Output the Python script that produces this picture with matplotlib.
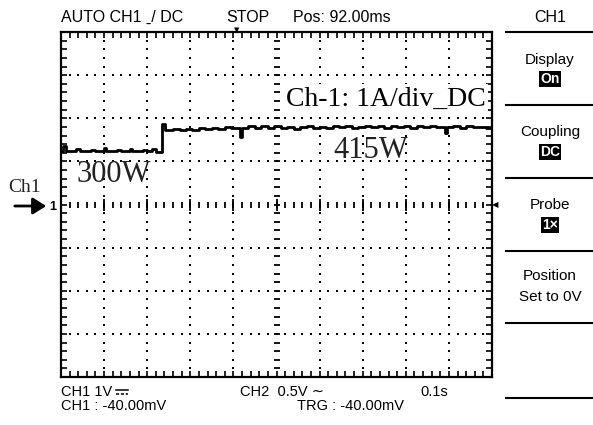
import matplotlib
matplotlib.use("Agg")
import matplotlib.pyplot as plt
from matplotlib.patches import FancyArrowPatch

# ---- data (screen divisions) ----
trace_x = [0.0, 0.05, 0.12, 0.35, 0.45, 0.7, 0.8, 1.0, 1.05, 1.3, 1.4, 1.6, 1.65, 1.9, 2.0, 2.1, 2.2,
           2.34, 2.42, 2.6, 2.75, 2.9, 3.05, 3.2, 3.35, 3.5, 3.65, 3.8, 3.95, 4.15, 4.2, 4.35, 4.5,
           4.65, 4.8, 4.95, 5.1, 5.25, 5.4, 5.55, 5.7, 5.85, 6.0, 6.15, 6.3, 6.45, 6.6, 6.75, 6.9,
           7.05, 7.2, 7.35, 7.5, 7.65, 7.8, 7.95, 8.1, 8.25, 8.4, 8.55, 8.7, 8.9, 8.95, 9.1, 9.25,
           9.4, 9.55, 9.7, 9.85, 10.0]
trace_y = [1.24, 1.36, 1.24, 1.28, 1.24, 1.26, 1.24, 1.30, 1.24, 1.27, 1.24, 1.29, 1.24, 1.27, 1.25, 1.28, 1.22,
           1.87, 1.73, 1.75, 1.72, 1.76, 1.73, 1.77, 1.74, 1.78, 1.76, 1.79, 1.77, 1.56, 1.78, 1.81, 1.77,
           1.82, 1.78, 1.81, 1.78, 1.80, 1.76, 1.79, 1.82, 1.78, 1.80, 1.78, 1.81, 1.79, 1.82, 1.78, 1.80,
           1.83, 1.79, 1.81, 1.78, 1.82, 1.79, 1.81, 1.78, 1.82, 1.79, 1.81, 1.80, 1.66, 1.80, 1.82, 1.78,
           1.81, 1.79, 1.80, 1.78, 1.79]

n_xdiv = 10
n_ydiv = 8
sub = 5

W, H = 593, 425
fig = plt.figure(figsize=(W / 100, H / 100), dpi=100)
fig.patch.set_facecolor("white")

def fx(px):
    return px / W

def fy(py):
    return 1 - py / H

L, R, T, B = 61, 492, 32, 377
ax = fig.add_axes([fx(L), fy(B), (R - L) / W, (B - T) / H])
ax.set_xlim(0, n_xdiv)
ax.set_ylim(-n_ydiv / 2, n_ydiv / 2)
for s in ax.spines.values():
    s.set_linewidth(1.6)
    s.set_color("black")

fine_x = [i / sub for i in range(n_xdiv * sub + 1)]
fine_y = [-n_ydiv / 2 + i / sub for i in range(n_ydiv * sub + 1)]
ax.set_xticks(fine_x)
ax.set_yticks(fine_y)
ax.tick_params(direction="in", length=4, width=1.2, top=True, right=True,
               labelbottom=False, labelleft=False, color="black")

# dotted grid
for i in range(1, n_xdiv):
    if i == n_xdiv // 2:
        continue
    ax.plot([i] * len(fine_y), fine_y, ls="", marker="s", ms=1.5, color="black", mew=0)
for j in range(1, n_ydiv):
    yv = -n_ydiv / 2 + j
    if yv == 0:
        continue
    ax.plot(fine_x, [yv] * len(fine_x), ls="", marker="s", ms=1.5, color="black", mew=0)
# center cross with ticks
ax.plot([n_xdiv / 2] * len(fine_y), fine_y, ls="", marker="_", ms=5, mew=1.3, color="black")
ax.plot(fine_x, [0] * len(fine_x), ls="", marker="|", ms=5, mew=1.3, color="black")
ax.plot(list(range(n_xdiv + 1)), [0] * (n_xdiv + 1), ls="", marker="|", ms=8, mew=1.3, color="black")

# trace
ax.plot(trace_x, trace_y, drawstyle="steps-post", color="black", lw=2.0, zorder=5)

# serif annotations
serif = ["Liberation Serif", "DejaVu Serif"]
ax.text(0.985, 0.805, "Ch-1: 1A/div_DC", transform=ax.transAxes, ha="right", va="center",
        fontsize=20, family=serif, zorder=6,
        bbox=dict(facecolor="white", edgecolor="none", pad=2))
fig.text(fx(77), fy(174), "300W", ha="left", va="center", fontsize=22, family=serif, color="#222222")
fig.text(fx(333), fy(150), "415W", ha="left", va="center", fontsize=22, family=serif, color="#222222")
fig.text(fx(8), fy(188), "Ch1", ha="left", va="center", fontsize=14, family=serif, color="#222222")
arr = FancyArrowPatch((fx(12), fy(206)), (fx(49), fy(206)), transform=fig.transFigure,
                      arrowstyle="-|>,head_length=8,head_width=5", lw=2, color="black")
fig.patches.append(arr)

scope = ["Liberation Sans", "DejaVu Sans"]
fig.text(fx(49), fy(207), "1", ha="left", va="center", fontsize=9, family=scope, weight="bold")

# top status line
fig.text(fx(61), fy(17), "AUTO CH1 ˍ/ DC", ha="left", va="center", fontsize=11.5, family=scope)
fig.text(fx(226), fy(17), "STOP", ha="left", va="center", fontsize=11.5, family=scope)
fig.text(fx(237), fy(30), "▼", ha="center", va="center", fontsize=5, family=["DejaVu Sans"])
fig.text(fx(293), fy(17), "Pos: 92.00ms", ha="left", va="center", fontsize=11.5, family=scope)
fig.text(fx(495), fy(205), "◀", ha="center", va="center", fontsize=6, family=["DejaVu Sans"])

# bottom status lines
t_ch1 = fig.text(fx(61), fy(392), "CH1 1V", ha="left", va="center", fontsize=10.5, family=scope)
fig.canvas.draw()
ext = t_ch1.get_window_extent(renderer=fig.canvas.get_renderer())
sx0 = ext.x1 / W + fx(4)
sx1 = sx0 + fx(12)
# DC coupling symbol (no installed font has U+2393): solid line over dashed line
fig.add_artist(plt.Line2D([sx0, sx1], [fy(390), fy(390)], color="black", lw=1.1))
fig.add_artist(plt.Line2D([sx0, sx1], [fy(394), fy(394)], color="black", lw=1.1,
                          dashes=(2, 1.2)))
fig.text(fx(240), fy(392), "CH2  0.5V ∼", ha="left", va="center", fontsize=10.5, family=scope)
fig.text(fx(420), fy(392), "0.1s", ha="left", va="center", fontsize=10.5, family=scope)
fig.text(fx(61), fy(406), "CH1 : -40.00mV", ha="left", va="center", fontsize=10.5, family=scope)
fig.text(fx(297), fy(406), "TRG : -40.00mV", ha="left", va="center", fontsize=10.5, family=scope)

# right menu
menu_lines = [32, 105, 178, 251, 323, 398]
for yl in menu_lines:
    fig.add_artist(plt.Line2D([fx(506), fx(593)], [fy(yl), fy(yl)], color="black", lw=1.5))
cx = fx(550)
fig.text(cx, fy(18), "CH1", ha="center", va="center", fontsize=11.5, family=scope)
fig.text(cx, fy(60), "Display", ha="center", va="center", fontsize=11, family=scope)
fig.text(cx, fy(132), "Coupling", ha="center", va="center", fontsize=11, family=scope)
fig.text(cx, fy(205), "Probe", ha="center", va="center", fontsize=11, family=scope)
fig.text(cx, fy(276), "Position", ha="center", va="center", fontsize=11, family=scope)
fig.text(cx, fy(297), "Set to 0V", ha="center", va="center", fontsize=11, family=scope)
for yb, lab in [(79, "On"), (152, "DC"), (225, "1×")]:
    fig.text(cx, fy(yb), lab, ha="center", va="center", fontsize=10, family=scope, color="white",
             weight="bold", bbox=dict(facecolor="black", edgecolor="none", pad=0.8))

fig.savefig("out.png", dpi=100, facecolor="white")
